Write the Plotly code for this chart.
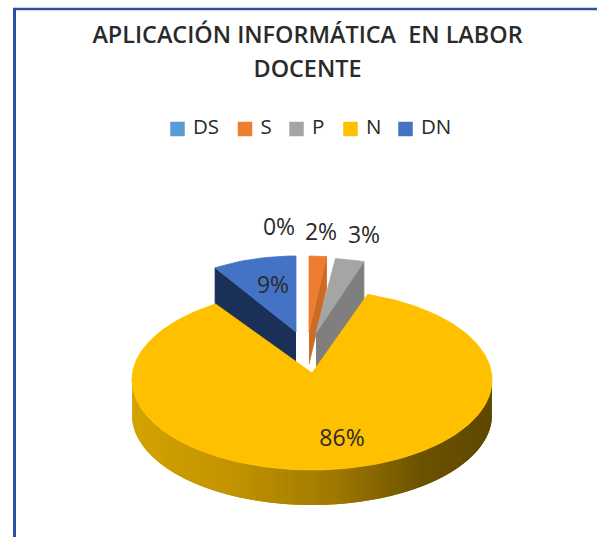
import math
import plotly.graph_objects as go

categories = ["DS", "S", "P", "N", "DN"]
values = [0, 2, 3, 86, 9]
colors = ["#5B9BD5", "#ED7D31", "#A5A5A5", "#FFC000", "#4472C4"]
wall_colors = {"S": "#CC6A26", "P": "#7F7F7F", "DN": "#1B3058"}
title_lines = ["APLICACIÓN INFORMÁTICA  EN LABOR", "DOCENTE"]

W, H = 597, 537
FONT = "Open Sans"
TXT = "#2a2a2a"

# Geometry of the tilted pie (px-like axis units)
MAIN = dict(ax=312, ay=373, cx=312, cy=380, rx=180, ry=90, depth=35)
EXPL = {
    "S": dict(ax=309, ay=332, rx=140, ry=76, depth=32),
    "P": dict(ax=316, ay=333, rx=155, ry=75, depth=40),
    "DN": dict(ax=296, ay=332, rx=151, ry=76, depth=38),
}
LABEL_POS = {"DS": (279, 229), "S": (321, 234), "P": (364, 237), "N": (342, 440), "DN": (273, 287)}
LEGEND_X = {"DS": 177.5, "S": 245, "P": 296.5, "N": 350.5, "DN": 405.5}
LEGEND_Y = 129

total = sum(values)
angles = {}
acc = 0
for c, v in zip(categories, values):
    angles[c] = (acc / total * 360, (acc + v) / total * 360)
    acc += v


def arc(cx, cy, rx, ry, a0, a1, n=60):
    pts = [a0 + (a1 - a0) * i / n for i in range(n + 1)]
    return ([cx + rx * math.sin(math.radians(t)) for t in pts],
            [cy - ry * math.cos(math.radians(t)) for t in pts])


def poly(xs, ys, color, width=0.8):
    return go.Scatter(x=xs, y=ys, mode="lines", fill="toself", fillcolor=color,
                      line=dict(color=color, width=width), hoverinfo="skip", showlegend=False)


def lerp_color(t):
    stops = [(0.0, (212, 162, 0)), (0.25, (196, 149, 0)), (0.55, (160, 121, 0)),
             (0.8, (108, 82, 0)), (1.0, (94, 71, 0))]
    for (t0, c0), (t1, c1) in zip(stops, stops[1:]):
        if t <= t1:
            f = (t - t0) / (t1 - t0)
            return "rgb(%d,%d,%d)" % tuple(round(a + (b - a) * f) for a, b in zip(c0, c1))
    return "rgb(94,71,0)"


fig = go.Figure()

# Main slice (N): wall strips drawn left to right with overlap
m = MAIN
step = 1.5
t = 270.0
while t > 90.0:
    x0, y0 = arc(m["cx"], m["cy"], m["rx"], m["ry"], t, max(t - step * 2, 90.0), n=4)
    xs = x0 + x0[::-1]
    ys = y0 + [y + m["depth"] for y in y0[::-1]]
    frac = (x0[0] - (m["cx"] - m["rx"])) / (2 * m["rx"])
    fig.add_trace(poly(xs, ys, lerp_color(frac), width=0))
    t -= step

# Exploded slices: inner wall, then top surface; the main top surface overlaps the wall feet
for c, idx in (("S", -1), ("P", -1), ("DN", 0)):
    g = EXPL[c]
    a0, a1 = angles[c]
    xs, ys = arc(g["ax"], g["ay"], g["rx"], g["ry"], a0, a1, n=20)
    ex, ey = xs[idx], ys[idx]
    fig.add_trace(poly([g["ax"], ex, ex, g["ax"]],
                       [g["ay"], ey, ey + g["depth"], g["ay"] + g["depth"]], wall_colors[c]))
    fig.add_trace(poly([g["ax"]] + xs + [g["ax"]], [g["ay"]] + ys + [g["ay"]],
                       colors[categories.index(c)]))

a0, a1 = angles["N"]
ax_, ay_ = arc(m["cx"], m["cy"], m["rx"], m["ry"], a0, a1, n=240)
fig.add_trace(poly([m["ax"]] + ax_ + [m["ax"]], [m["ay"]] + ay_ + [m["ay"]], colors[categories.index("N")]))

# Data labels
fig.add_trace(go.Scatter(
    x=[LABEL_POS[c][0] for c in categories], y=[LABEL_POS[c][1] for c in categories],
    mode="text", text=[f"{round(v / total * 100)}%" for v in values],
    textfont=dict(family=FONT, size=23, color=TXT), hoverinfo="skip", showlegend=False))

# Legend row: swatch plus name for each category
for c, col in zip(categories, colors):
    fig.add_trace(go.Scatter(
        x=[LEGEND_X[c]], y=[LEGEND_Y], mode="markers+text", name=c, text=["\u00a0" + c],
        textposition="middle right", cliponaxis=False,
        marker=dict(symbol="square", size=14.5, color=col),
        textfont=dict(family=FONT, size=20.5, color=TXT), hoverinfo="name", showlegend=False))

title_text = "<br>".join(f'<span style="font-size:23.4px">{s}</span>' for s in title_lines)
fig.update_layout(
    width=W, height=H, margin=dict(l=0, r=0, t=0, b=0), autosize=False,
    paper_bgcolor="white", plot_bgcolor="white", showlegend=False,
    xaxis=dict(range=[0, W], visible=False, fixedrange=True),
    yaxis=dict(range=[H, 0], visible=False, fixedrange=True),
    title=dict(text=title_text, x=307.5 / W, xanchor="center", y=1 - 43 / H, yanchor="middle",
               font=dict(family=FONT, size=26, color=TXT, weight=600)),
    shapes=[
        dict(type="line", xref="paper", yref="paper", x0=14.5 / W, x1=14.5 / W, y0=0, y1=1 - 8 / H,
             line=dict(color="#2F4F9F", width=3)),
        dict(type="line", xref="paper", yref="paper", x0=13 / W, x1=1, y0=1 - 9 / H, y1=1 - 9 / H,
             line=dict(color="#2F4F9F", width=2.5)),
    ],
)
fig.write_html("out.html", config={"displayModeBar": False},
               post_script="document.body.style.margin='0';document.documentElement.style.overflow='hidden';")
